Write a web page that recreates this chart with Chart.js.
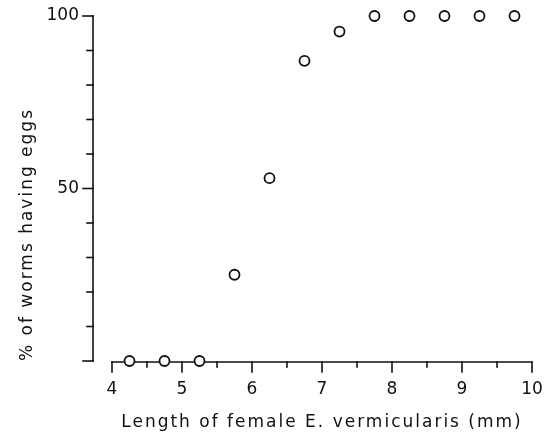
<!DOCTYPE html>
<html>
<head>
<meta charset="utf-8">
<script src="https://cdn.jsdelivr.net/npm/chart.js@4"></script>
<style>
  html, body { margin: 0; padding: 0; background: #fff; }
  #wrap { width: 552px; height: 436px; }
</style>
</head>
<body>
<div id="wrap"><canvas id="eggChart" width="552" height="436"></canvas></div>
<script>
// female length (mm) and % of worms carrying eggs
const lengths = [4.25, 4.75, 5.25, 5.75, 6.25, 6.75, 7.25, 7.75, 8.25, 8.75, 9.25, 9.75];
const pctWithEggs = [0, 0, 0, 25, 53, 87, 95.5, 100, 100, 100, 100, 100];

// ticks that carry a number
const xLabelTicks = [4, 5, 6, 7, 8, 9, 10];
const yLabelTicks = [50, 100];

const ink = '#111';
const font = "'DejaVu Sans', sans-serif";

// axes drawn like a pen plot: detached y axis, ticks pointing outward
const penAxes = {
  id: 'penAxes',
  beforeDraw(chart) {
    chart.ctx.letterSpacing = '2px';
  },
  beforeDatasetsDraw(chart) {
    const { ctx, scales: { x, y } } = chart;
    const y0 = y.getPixelForValue(y.min);
    const yTop = y.getPixelForValue(y.max);
    const axisX = x.left - 19;
    ctx.save();
    ctx.strokeStyle = ink;
    ctx.lineWidth = 1.6;
    ctx.lineCap = 'square';
    const seg = (a, b, c, d) => { ctx.beginPath(); ctx.moveTo(a, b); ctx.lineTo(c, d); ctx.stroke(); };

    seg(axisX, yTop, axisX, y0);
    y.ticks.forEach(t => {
      const py = y.getPixelForValue(t.value);
      const len = (t.value % 50 === 0) ? 10 : 6;
      seg(axisX - len, py, axisX, py);
    });

    const xy = y0 + 1;
    seg(x.getPixelForValue(x.min), xy, x.getPixelForValue(x.max), xy);
    x.ticks.forEach(t => {
      const px = x.getPixelForValue(t.value);
      const len = Number.isInteger(t.value) ? 10 : 5;
      seg(px, xy, px, xy + len);
    });
    ctx.restore();
  },
  afterDatasetsDraw(chart) {
    // tick numbers are drawn after this, without the wide spacing
    chart.ctx.letterSpacing = '0px';
  }
};

const ctx = document.getElementById('eggChart').getContext('2d');
new Chart(ctx, {
  type: 'scatter',
  data: {
    datasets: [{
      label: '% with eggs',
      data: lengths.map((v, i) => ({ x: v, y: pctWithEggs[i] })),
      pointStyle: 'circle',
      pointRadius: 5,
      pointBorderWidth: 1.8,
      pointBorderColor: ink,
      pointBackgroundColor: '#fff',
      showLine: false,
      clip: false
    }]
  },
  options: {
    responsive: false,
    animation: false,
    events: [],
    layout: { padding: { top: 16, right: 20, left: 0, bottom: 0 } },
    plugins: { legend: { display: false }, tooltip: { enabled: false } },
    scales: {
      x: {
        type: 'linear',
        min: 4,
        max: 10,
        afterFit: s => { s.height = 75; s.paddingLeft = 0; s.paddingRight = 0; },
        grid: { display: false, drawTicks: false },
        border: { display: false },
        ticks: {
          stepSize: 0.5,
          autoSkip: false,
          maxRotation: 0,
          padding: 18,
          z: 1,
          color: ink,
          font: { family: font, size: 17 },
          callback: v => xLabelTicks.includes(v) ? String(v) : ''
        },
        title: {
          display: true,
          text: 'Length of female E. vermicularis (mm)',
          color: ink,
          font: { family: font, size: 17 },
          padding: { top: 0, bottom: 3 }
        }
      },
      y: {
        min: 0,
        max: 100,
        afterFit: s => { s.width = 112; s.paddingTop = 0; s.paddingBottom = 0; },
        grid: { display: false, drawTicks: false },
        border: { display: false },
        ticks: {
          stepSize: 10,
          autoSkip: false,
          padding: 33,
          z: 1,
          color: ink,
          font: { family: font, size: 17 },
          callback: v => yLabelTicks.includes(v) ? String(v) : ''
        },
        title: {
          display: true,
          text: '% of worms having eggs',
          align: 'start',
          color: ink,
          font: { family: font, size: 17 },
          padding: { top: 17, bottom: 0 }
        }
      }
    }
  },
  plugins: [penAxes]
});
</script>
</body>
</html>
